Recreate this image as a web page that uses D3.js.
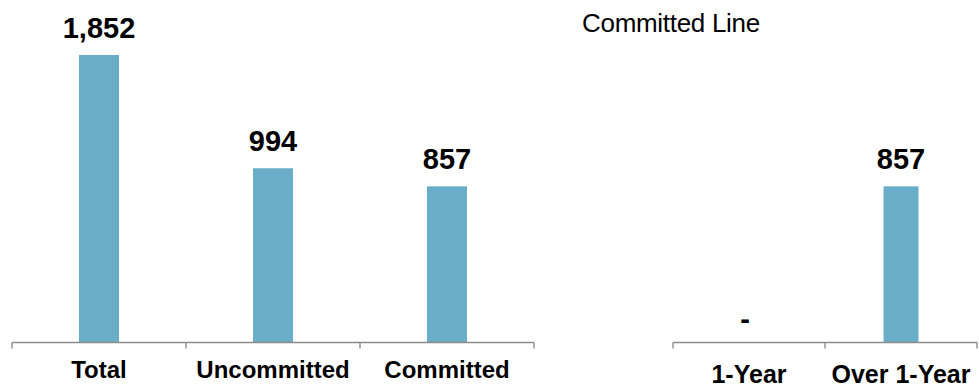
<!DOCTYPE html>
<html>
<head>
<meta charset="utf-8">
<script src="https://cdn.jsdelivr.net/npm/d3@7"></script>
<style>
  html, body { margin: 0; padding: 0; background: #ffffff; }
  svg { display: block; font-family: "Liberation Sans", Arial, Helvetica, sans-serif; }
</style>
</head>
<body>
<div id="chart"></div>
<script>
// ---- data ----
const leftCategories = ["Total", "Uncommitted", "Committed"];
const leftValues = [1852, 994, 857];
const rightTitle = "Committed Line";
const rightCategories = ["1-Year", "Over 1-Year"];
const rightValues = [null, 857];

// ---- layout ----
const W = 979, H = 387;
const axisY = 342.5;
const barColor = "#6aadc9";
const axisColor = "#8c8c8c";
const fmt = d3.format(",");

const svg = d3.select("#chart").append("svg")
  .attr("width", W).attr("height", H);

// shared value scale (both panels use the same scale)
const y = d3.scaleLinear().domain([-326, 1852]).range([axisY, 55]);

function panel(cats, vals, x0, x1, catSize, catBaseline) {
  const x = d3.scaleBand().domain(cats).range([x0, x1]).padding(0);
  const bw = x.bandwidth() * 0.23;
  const g = svg.append("g");
  const data = cats.map((c, i) => ({ c, v: vals[i] }));

  g.selectAll("rect.bar").data(data.filter(d => d.v != null)).enter()
    .append("rect").attr("class", "bar")
    .attr("x", d => x(d.c) + x.bandwidth() / 2 - bw / 2)
    .attr("width", bw)
    .attr("y", d => y(d.v))
    .attr("height", d => axisY - y(d.v))
    .attr("fill", barColor);

  // axis line with boundary ticks
  const bounds = cats.map(c => x(c)).concat([x.range()[1]]);
  g.append("line")
    .attr("x1", x0).attr("x2", x1).attr("y1", axisY).attr("y2", axisY)
    .attr("stroke", axisColor).attr("stroke-width", 1.4);
  g.selectAll("line.tick").data(bounds).enter()
    .append("line").attr("class", "tick")
    .attr("x1", d => d).attr("x2", d => d)
    .attr("y1", axisY).attr("y2", axisY + 6)
    .attr("stroke", axisColor).attr("stroke-width", 1.4);

  // value labels
  g.selectAll("text.val").data(data).enter()
    .append("text").attr("class", "val")
    .attr("x", d => x(d.c) + x.bandwidth() / 2 - (d.v == null ? 4 : 0))
    .attr("y", d => d.v == null ? axisY - 14 : y(d.v) - 17)
    .attr("text-anchor", "middle")
    .attr("font-size", 29).attr("font-weight", "bold").attr("fill", "#000")
    .text(d => d.v == null ? "-" : fmt(d.v));

  // category labels
  g.selectAll("text.cat").data(data).enter()
    .append("text").attr("class", "cat")
    .attr("x", d => x(d.c) + x.bandwidth() / 2)
    .attr("y", catBaseline)
    .attr("text-anchor", "middle")
    .attr("font-size", catSize).attr("font-weight", "bold").attr("fill", "#000")
    .text(d => d.c);
}

panel(leftCategories, leftValues, 12, 534, 24, 378);
panel(rightCategories, rightValues, 673, 977, 25, 383);

svg.append("text")
  .attr("x", 582).attr("y", 32)
  .attr("font-size", 26).attr("fill", "#000")
  .attr("letter-spacing", -0.3)
  .text(rightTitle);
</script>
</body>
</html>
